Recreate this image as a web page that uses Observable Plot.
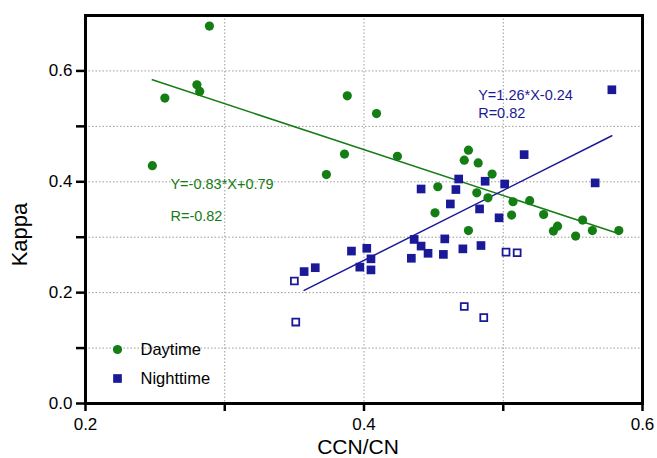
<!DOCTYPE html>
<html><head><meta charset="utf-8">
<script src="https://cdn.jsdelivr.net/npm/d3@7"></script>
<script src="https://cdn.jsdelivr.net/npm/@observablehq/plot@0.6"></script>
<style>body{margin:0;background:#fff;} svg{display:block;}</style>
</head><body><div id="chart"></div>
<script>
// Daytime (green circles)
const dayX = [0.248,0.257,0.280,0.282,0.289,0.373,0.386,0.388,0.409,0.424,0.451,0.453,0.472,0.475,0.475,0.481,0.482,0.489,0.492,0.506,0.507,0.519,0.529,0.536,0.539,0.552,0.557,0.564,0.583];
const dayY = [0.429,0.551,0.575,0.563,0.681,0.413,0.450,0.555,0.523,0.446,0.344,0.391,0.439,0.312,0.457,0.380,0.434,0.371,0.414,0.340,0.364,0.366,0.341,0.311,0.320,0.302,0.331,0.312,0.312];
// Nighttime (filled blue squares)
const nightX = [0.357,0.365,0.391,0.397,0.402,0.405,0.405,0.434,0.436,0.441,0.441,0.446,0.457,0.458,0.462,0.466,0.468,0.471,0.483,0.484,0.487,0.497,0.501,0.515,0.566,0.578];
const nightY = [0.238,0.245,0.275,0.246,0.280,0.261,0.241,0.262,0.296,0.284,0.387,0.271,0.269,0.297,0.360,0.386,0.405,0.279,0.351,0.285,0.401,0.335,0.396,0.449,0.398,0.566];
// Nighttime excluded (open squares)
const openX = [0.350,0.351,0.472,0.486,0.502,0.510];
const openY = [0.221,0.147,0.175,0.155,0.273,0.272];
// Fit line end points
const dayFitX = [0.248,0.581];
const dayFitY = [0.584,0.308];
const nightFitX = [0.357,0.578];
const nightFitY = [0.204,0.483];
// Annotations
const annoText = ["Y=-0.83*X+0.79","R=-0.82","Y=1.26*X-0.24","R=0.82"];
const annoX = [0.261,0.261,0.482,0.482];
const annoY = [0.396,0.338,0.556,0.524];
const annoSeries = ["day","day","night","night"];
// Axes
const xTickValues = [0.2,0.3,0.4,0.5,0.6];
const xTickLabels = ["0.2","","0.4","","0.6"];
const yTickValues = [0,0.1,0.2,0.3,0.4,0.5,0.6];
const yTickLabels = ["0.0","","0.2","","0.4","","0.6"];
const xLabel = "CCN/CN";
const yLabel = "Kappa";
const legendLabels = ["Daytime","Nighttime"];

const green = "#147d14";
const blue = "#1a1a98";
const zip = (xs, ys) => xs.map((x, i) => ({x, y: ys[i]}));
const day = zip(dayX, dayY), night = zip(nightX, nightY), open = zip(openX, openY);
const annos = annoText.map((t, i) => ({t, x: annoX[i], y: annoY[i], s: annoSeries[i]}));

const plot = Plot.plot({
  width: 657, height: 458,
  marginLeft: 85, marginRight: 15, marginTop: 15, marginBottom: 55,
  style: {fontFamily: "'Liberation Sans', Arial, sans-serif", background: "#fff", color: "#000"},
  x: {domain: [0.2, 0.6]},
  y: {domain: [0, 0.7]},
  marks: [
    Plot.gridX(xTickValues, {stroke: "#9a9a9a", strokeOpacity: 1, strokeDasharray: "1.5,2"}),
    Plot.gridY(yTickValues, {stroke: "#9a9a9a", strokeOpacity: 1, strokeDasharray: "1.5,2"}),
    Plot.line(zip(dayFitX, dayFitY), {x: "x", y: "y", stroke: green, strokeWidth: 1.5}),
    Plot.line(zip(nightFitX, nightFitY), {x: "x", y: "y", stroke: blue, strokeWidth: 1.5}),
    Plot.dot(open, {x: "x", y: "y", symbol: "square", r: 3.9, fill: "#fff", stroke: blue, strokeWidth: 1.8}),
    Plot.dot(night, {x: "x", y: "y", symbol: "square", r: 4.9, fill: blue}),
    Plot.dot(day, {x: "x", y: "y", r: 4.6, fill: green}),
    Plot.text(annos, {x: "x", y: "y", text: "t", textAnchor: "start", fontSize: 14.5,
      fill: d => d.s === "day" ? green : blue}),
    // legend
    Plot.dot([legendLabels[0]], {frameAnchor: "bottom-left", dx: 32, dy: -54, r: 4.6, fill: green}),
    Plot.dot([legendLabels[1]], {frameAnchor: "bottom-left", dx: 32, dy: -25, symbol: "square", r: 4.9, fill: blue}),
    Plot.text([legendLabels[0]], {text: d => d, frameAnchor: "bottom-left", dx: 55, dy: -54, textAnchor: "start", lineAnchor: "middle", fontSize: 16.5, fill: "#000"}),
    Plot.text([legendLabels[1]], {text: d => d, frameAnchor: "bottom-left", dx: 55, dy: -25, textAnchor: "start", lineAnchor: "middle", fontSize: 16.5, fill: "#000"}),
    // axis titles
    Plot.text([yLabel], {text: d => d, frameAnchor: "left", rotate: -90, dx: -66, dy: 25, fontSize: 22, textAnchor: "middle", lineAnchor: "middle", fill: "#000"}),
    Plot.text([xLabel], {text: d => d, frameAnchor: "bottom", dx: -6, dy: 44, fontSize: 21, textAnchor: "middle", lineAnchor: "middle", fill: "#000"}),
    Plot.frame({stroke: "#000", strokeWidth: 3}),
    Plot.axisX(xTickValues, {tickSize: 8, tickPadding: 6, strokeWidth: 2.5, fontSize: 17, label: null,
      tickFormat: d => xTickLabels[xTickValues.indexOf(d)]}),
    Plot.axisY(yTickValues, {tickSize: 9, tickPadding: 4, strokeWidth: 2.5, fontSize: 17, label: null,
      tickFormat: d => yTickLabels[yTickValues.indexOf(d)]})
  ]
});
document.getElementById("chart").appendChild(plot);
</script>
</body></html>
